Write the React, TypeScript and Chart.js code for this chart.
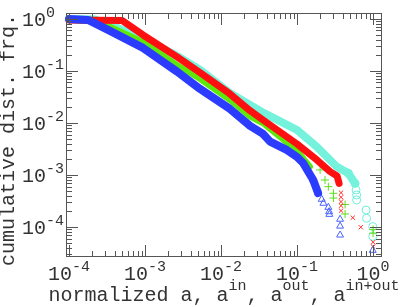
import React, { useEffect, useRef } from 'react';
import { Chart, registerables } from 'chart.js';

Chart.register(...registerables);

// Axis ranges (log scales)
const xMin = 9.13e-5;
const xMax = 1.31;
const yMin = 2.65e-5;
const yMax = 1.3;

const majorExponents = [-5, -4, -3, -2, -1, 0];
const xTickLabels = ['-4', '-3', '-2', '-1', '0'];
const yTickLabels = ['0', '-1', '-2', '-3', '-4'];

const yTitle = 'cumulative dist. frq.';
const xTitleParts = ['normalized a, a', 'in', ', a', 'out', ', a', 'in+out'];

// Series: a (blue, triangles)
const blueX = [1e-4, 1.78e-4, 3.46e-4, 9.41e-4, 2.64e-3, 5.3e-3, 0.0131, 0.0241, 0.0357, 0.0442, 0.0731, 0.1, 0.12, 0.163, 0.189];
const blueY = [1.0, 0.957, 0.588, 0.277, 0.097, 0.0451, 0.0186, 0.0088, 0.00614, 0.00437, 0.00303, 0.00222, 0.0017, 8.0e-4, 4.5e-4];
const blueTailX = [0.163, 0.189, 0.211, 0.222, 0.258, 0.264, 0.266, 0.368, 0.368, 0.368, 0.99];
const blueTailY = [8.0e-4, 4.5e-4, 3.41e-4, 2.86e-4, 2.39e-4, 1.97e-4, 1.75e-4, 1.41e-4, 1.04e-4, 7.0e-5, 3.56e-5];

// Series: a^in (red, x markers)
const redX = [1e-4, 4.97e-4, 9.41e-4, 2.64e-3, 5.3e-3, 0.0131, 0.0241, 0.0357, 0.1, 0.183, 0.272, 0.336, 0.357];
const redY = [0.957, 0.935, 0.492, 0.186, 0.0928, 0.0361, 0.0172, 0.0114, 0.00394, 0.00194, 0.00116, 9.6e-4, 6.9e-4];
const redTailX = [0.379, 0.379, 0.379, 0.379, 0.379, 0.541, 0.689, 1.0, 1.0];
const redTailY = [4.57e-4, 3.73e-4, 3.07e-4, 2.57e-4, 2.06e-4, 1.51e-4, 9.9e-5, 5.1e-5, 4.2e-5];

// Series: a^out (green, + markers)
const greenX = [1e-4, 1.78e-4, 3.46e-4, 9.41e-4, 2.64e-3, 5.3e-3, 0.0131, 0.0241, 0.0357, 0.1, 0.148];
const greenY = [0.957, 0.916, 0.711, 0.361, 0.13, 0.0702, 0.0277, 0.0132, 0.00986, 0.0029, 0.00144];
const greenTailX = [0.201, 0.233, 0.258, 0.301, 0.301, 0.428, 0.428, 1.0, 1.0];
const greenTailY = [1.25e-3, 8.0e-4, 5.96e-4, 4.44e-4, 3.6e-4, 2.71e-4, 1.78e-4, 9.0e-5, 7.6e-5];

// Series: a^in+out (cyan, circles)
const cyanX = [1e-4, 2.2e-4, 3.46e-4, 9.41e-4, 2.64e-3, 5.3e-3, 0.0131, 0.0241, 0.0357, 0.1, 0.183, 0.333, 0.473, 0.579];
const cyanY = [1.0, 0.98, 0.767, 0.431, 0.194, 0.1045, 0.0373, 0.0222, 0.0158, 0.00733, 0.00345, 0.00144, 0.00108, 6.9e-4];
const cyanTailX = [0.473, 0.579, 0.597, 0.607, 0.607, 0.809, 0.82, 0.99, 0.99];
const cyanTailY = [1.08e-3, 6.9e-4, 5.15e-4, 4.12e-4, 3.3e-4, 2.12e-4, 1.47e-4, 1.02e-4, 6.6e-5];

const BLUE = '#2b3cff';
const RED = '#ff1010';
const GREEN = '#5ee80a';
const CYAN = '#74f2dc';

const MONO = '"Liberation Mono", "DejaVu Sans Mono", monospace';

const pts = (xs: number[], ys: number[]) => xs.map((x, i) => ({ x, y: ys[i] }));

const lineSet = (xs: number[], ys: number[], color: string, width: number) => ({
  data: pts(xs, ys),
  showLine: true,
  borderColor: color,
  backgroundColor: color,
  borderWidth: width,
  borderCapStyle: 'round' as const,
  borderJoinStyle: 'round' as const,
  pointRadius: 0,
  tension: 0,
  clip: false as const,
});

const tailSet = (xs: number[], ys: number[], color: string, style: string, r: number) => ({
  data: pts(xs, ys),
  showLine: false,
  borderColor: color,
  backgroundColor: 'rgba(0,0,0,0)',
  pointStyle: style,
  pointRadius: r,
  pointBorderWidth: 1,
  pointBorderColor: color,
  pointBackgroundColor: 'rgba(0,0,0,0)',
  clip: false as const,
});

const framePlugin = {
  id: 'frameAndLabels',
  afterDatasetsDraw(chart: any) {
    const { ctx, chartArea: a, scales } = chart;
    const xs = scales.x;
    const ys = scales.y;
    ctx.save();
    ctx.strokeStyle = '#555';
    ctx.lineWidth = 1;
    ctx.strokeRect(a.left + 0.5, a.top + 0.5, a.right - a.left - 1, a.bottom - a.top - 1);
    ctx.beginPath();
    for (const e of majorExponents) {
      for (let m = 1; m <= 9; m++) {
        const v = m * Math.pow(10, e);
        const len = m === 1 ? 12 : 6;
        if (v >= xMin && v <= xMax) {
          const p = Math.round(xs.getPixelForValue(v)) + 0.5;
          ctx.moveTo(p, a.bottom);
          ctx.lineTo(p, a.bottom - len);
          ctx.moveTo(p, a.top);
          ctx.lineTo(p, a.top + len);
        }
        if (v >= yMin && v <= yMax) {
          const p = Math.round(ys.getPixelForValue(v)) + 0.5;
          ctx.moveTo(a.left, p);
          ctx.lineTo(a.left + len, p);
          ctx.moveTo(a.right, p);
          ctx.lineTo(a.right - len, p);
        }
      }
    }
    ctx.stroke();

    ctx.fillStyle = '#333';
    ctx.textBaseline = 'alphabetic';
    ctx.textAlign = 'left';
    const bigFont = '20px ' + MONO;
    const supFont = '15px ' + MONO;

    // x tick labels
    xTickLabels.forEach((lab, i) => {
      const v = Math.pow(10, -4 + i);
      const p = xs.getPixelForValue(v);
      ctx.font = bigFont;
      const w1 = ctx.measureText('10').width;
      ctx.font = supFont;
      const w2 = ctx.measureText(lab).width;
      const start = p - (w1 + w2) / 2;
      ctx.font = bigFont;
      ctx.fillText('10', start, 280);
      ctx.font = supFont;
      ctx.fillText(lab, start + w1, 271);
    });

    // y tick labels
    yTickLabels.forEach((lab, i) => {
      const v = Math.pow(10, -i);
      const p = ys.getPixelForValue(v);
      ctx.font = bigFont;
      const w1 = ctx.measureText('10').width;
      ctx.fillText('10', 22, p + 7);
      ctx.font = supFont;
      ctx.fillText(lab, 22 + w1, p - 2);
    });

    // x title
    const titleFont = '20px ' + MONO;
    const titleSup = '15px ' + MONO;
    let total = 0;
    const widths = xTitleParts.map((t, i) => {
      ctx.font = i % 2 === 0 ? titleFont : titleSup;
      const w = ctx.measureText(t).width;
      total += w;
      return w;
    });
    let cx = (a.left + a.right) / 2 - total / 2;
    xTitleParts.forEach((t, i) => {
      ctx.font = i % 2 === 0 ? titleFont : titleSup;
      ctx.fillText(t, cx, i % 2 === 0 ? 301 : 290);
      cx += widths[i];
    });

    // y title
    ctx.save();
    ctx.translate(14, 140);
    ctx.rotate(-Math.PI / 2);
    ctx.textAlign = 'center';
    ctx.font = titleFont;
    ctx.fillText(yTitle, 0, 0);
    ctx.restore();

    ctx.restore();
  },
};

export default function App() {
  const ref = useRef<HTMLCanvasElement>(null);
  useEffect(() => {
    document.body.style.margin = '0';
    const chart = new Chart(ref.current as HTMLCanvasElement, {
      type: 'scatter',
      data: {
        datasets: [
          lineSet(blueX, blueY, BLUE, 8),
          tailSet(blueTailX, blueTailY, '#4a63ff', 'triangle', 4),
          lineSet(redX, redY, RED, 7),
          tailSet(redTailX, redTailY, '#ff2a2a', 'crossRot', 3),
          lineSet(greenX, greenY, GREEN, 6),
          tailSet(greenTailX, greenTailY, '#5fe01a', 'cross', 4),
          lineSet(cyanX, cyanY, CYAN, 8),
          tailSet(cyanTailX, cyanTailY, '#6eeedb', 'circle', 4),
        ] as any,
      },
      options: {
        animation: false,
        responsive: false,
        maintainAspectRatio: false,
        devicePixelRatio: 1,
        layout: { padding: { left: 66, right: 28, top: 13, bottom: 50 } },
        plugins: { legend: { display: false }, tooltip: { enabled: false } },
        scales: {
          x: { type: 'logarithmic', min: xMin, max: xMax, display: false },
          y: { type: 'logarithmic', min: yMin, max: yMax, display: false },
        },
      },
      plugins: [framePlugin],
    });
    return () => chart.destroy();
  }, []);
  return (
    <div style={{ position: 'absolute', left: 0, top: 0, width: 410, height: 307, background: '#fff' }}>
      <canvas ref={ref} width={410} height={307} style={{ display: 'block', width: 410, height: 307 }} />
    </div>
  );
}
